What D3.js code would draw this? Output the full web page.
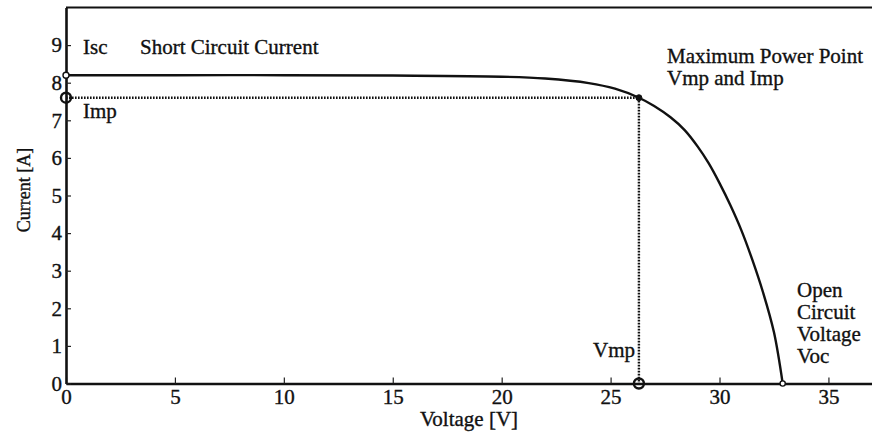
<!DOCTYPE html>
<html>
<head>
<meta charset="utf-8">
<script src="https://cdn.jsdelivr.net/npm/d3@7"></script>
<style>
  html, body { margin: 0; padding: 0; background: #fff; }
  svg { display: block; }
  text { font-family: "Liberation Serif", "Times New Roman", serif; fill: #111; stroke: #111; stroke-width: 0.35px; }
</style>
</head>
<body>
<svg id="chart" width="872" height="432"></svg>
<script>
// I-V characteristic of a PV module
const voltage = [0, 5, 10, 15, 20, 22, 24, 25.2, 26.3, 27.0, 27.75, 28.4, 29.0, 29.5, 30.0, 30.5, 31.0, 31.5, 32.0, 32.5, 32.9];
const current = [8.2, 8.2, 8.2, 8.19, 8.16, 8.11, 7.99, 7.84, 7.6, 7.38, 7.08, 6.74, 6.30, 5.86, 5.33, 4.74, 4.08, 3.30, 2.42, 1.36, 0];

// Characteristic points
const Isc = 8.2, Imp = 7.6, Vmp = 26.3, Voc = 32.9;

const xTicks = [0, 5, 10, 15, 20, 25, 30, 35];
const yTicks = [0, 1, 2, 3, 4, 5, 6, 7, 8, 9];

const svg = d3.select("#chart");
const plotLeft = 66, plotRight = 872, plotTop = 7.5, plotBottom = 383.5;

const x = d3.scaleLinear().domain([0, 37]).range([plotLeft, plotRight]);
const y = d3.scaleLinear().domain([0, 10]).range([plotBottom, plotTop]);

// top frame line
svg.append("line")
  .attr("x1", plotLeft).attr("x2", plotRight).attr("y1", plotTop).attr("y2", plotTop)
  .attr("stroke", "#111").attr("stroke-width", 2.2);

// axes with inward ticks
const xAxis = svg.append("g")
  .attr("transform", `translate(0,${plotBottom})`)
  .call(d3.axisBottom(x).tickValues(xTicks).tickFormat(d3.format("d"))
    .tickSizeInner(-6).tickSizeOuter(0).tickPadding(6));
const yAxis = svg.append("g")
  .attr("transform", `translate(${plotLeft},0)`)
  .call(d3.axisLeft(y).tickValues(yTicks).tickFormat(d3.format("d"))
    .tickSizeInner(-5).tickSizeOuter(0).tickPadding(4));

[xAxis, yAxis].forEach(g => {
  g.select(".domain").attr("stroke", "#111").attr("stroke-width", 2.6);
  g.selectAll(".tick line").attr("stroke", "#222").attr("stroke-width", 1.2);
  g.selectAll(".tick text")
    .attr("font-family", "'Liberation Serif', serif")
    .attr("font-size", 21).attr("fill", "#111");
});

// axis titles
svg.append("text")
  .attr("x", (plotLeft + plotRight) / 2).attr("y", 426)
  .attr("text-anchor", "middle").attr("font-size", 21)
  .text("Voltage [V]");
svg.append("text")
  .attr("transform", "translate(30,190) rotate(-90)")
  .attr("text-anchor", "middle").attr("font-size", 18)
  .text("Current [A]");

// dotted guides to the maximum power point
svg.append("path")
  .attr("d", `M${x(0)},${y(Imp)}H${x(Vmp)}V${y(0)}`)
  .attr("fill", "none").attr("stroke", "#111")
  .attr("stroke-width", 2.4).attr("stroke-dasharray", "1.6 1.4");

// I-V curve
const pts = voltage.map((v, i) => [v, current[i]]);
svg.append("path")
  .datum(pts)
  .attr("d", d3.line().x(d => x(d[0])).y(d => y(d[1])).curve(d3.curveCatmullRom.alpha(0.5)))
  .attr("fill", "none").attr("stroke", "#111").attr("stroke-width", 2.4);

// markers
const markers = [
  { v: 0, i: Isc, r: 3, w: 1.4, fill: "#fff" },
  { v: 0, i: Imp, r: 5, w: 2.4, fill: "none" },
  { v: Vmp, i: 0, r: 5, w: 2.4, fill: "none" },
  { v: Vmp, i: Imp, r: 3, w: 1, fill: "#111" },
  { v: Voc, i: 0, r: 2.6, w: 1.4, fill: "#fff" }
];
svg.selectAll("circle.mk").data(markers).join("circle")
  .attr("class", "mk")
  .attr("cx", d => x(d.v)).attr("cy", d => y(d.i)).attr("r", d => d.r)
  .attr("fill", d => d.fill).attr("stroke", "#111").attr("stroke-width", d => d.w);

// annotations
const notes = [
  { t: "Isc", x: 83, y: 54 },
  { t: "Short Circuit Current", x: 140, y: 54 },
  { t: "Imp", x: 83, y: 118 },
  { t: "Maximum Power Point", x: 667, y: 63 },
  { t: "Vmp and Imp", x: 667, y: 85 },
  { t: "Vmp", x: 593, y: 357 },
  { t: "Open", x: 797, y: 297 },
  { t: "Circuit", x: 797, y: 319 },
  { t: "Voltage", x: 797, y: 341 },
  { t: "Voc", x: 797, y: 363 }
];
svg.selectAll("text.note").data(notes).join("text")
  .attr("class", "note")
  .attr("x", d => d.x).attr("y", d => d.y)
  .attr("font-size", 21)
  .text(d => d.t);
</script>
</body>
</html>
